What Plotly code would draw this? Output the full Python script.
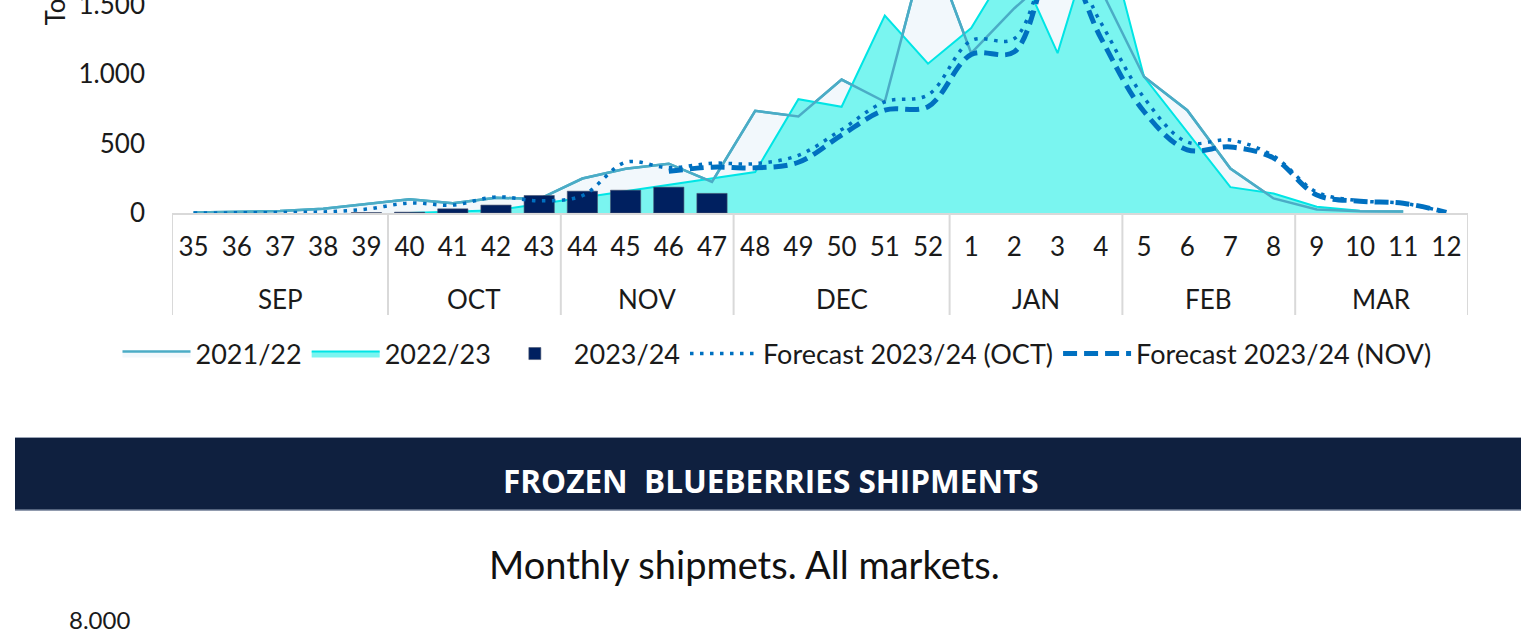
import plotly.graph_objects as go

W, H = 1521, 637

weeks = ["35", "36", "37", "38", "39", "40", "41", "42", "43", "44", "45", "46", "47",
         "48", "49", "50", "51", "52", "1", "2", "3", "4", "5", "6", "7", "8", "9", "10", "11", "12"]
months = ["SEP"] * 5 + ["OCT"] * 4 + ["NOV"] * 4 + ["DEC"] * 5 + ["JAN"] * 4 + ["FEB"] * 4 + ["MAR"] * 4

s2122 = [3, 8, 15, 30, 65, 98, 70, 110, 100, 248, 319, 355, 224, 735, 695, 960, 800, 1980,
         1150, 1473, 1750, 1610, 980, 740, 320, 105, 25, 12, 10, None]
s2223 = [None, None, None, None, None, 0, 8, 20, 65, 110, 160, 200, 245, 295, 819, 764, 1421, 1074,
         1331, 1840, 1150, 2170, 980, 580, 186, 140, 45, 16, None, None]
s2324 = [None, None, None, None, 3, 6, 30, 57, 126, 157, 164, 186, 141,
         None, None, None, None, None, None, None, None, None, None, None, None, None, None, None, None, None]
fc_oct = [0, 1, 3, 8, 28, 72, 57, 116, 88, 125, 365, 325, 358, 355, 415, 600, 800, 850,
          1240, 1255, 1900, 1370, 830, 510, 525, 410, 150, 88, 70, 5]
fc_nov = [None, None, None, None, None, None, None, None, None, None, None, 300, 330, 325, 365, 560, 740, 765,
          1140, 1160, 1880, 1260, 730, 455, 475, 395, 130, 85, 70, 5]

FONT = "Lato"
TXT = "#1a1a1a"
GRID = "#d9d9d9"


def px(v):
    return v / W


def py(v):
    return 1 - v / H


fig = go.Figure()
# base subplot: the two seasons as areas
fig.add_trace(go.Scatter(x=weeks, y=s2122, name="2021/22", mode="lines", fill="tozeroy",
                         fillcolor="#f2f8fc", line=dict(color="#4bacc6", width=2.5)))
fig.add_trace(go.Scatter(x=weeks, y=s2223, name="2022/23", mode="lines", fill="tozeroy",
                         fillcolor="#7af5f0", line=dict(color="#00e5e5", width=2)))
fig.add_trace(go.Scatter(x=weeks, y=s2122, name="2021/22", mode="lines", showlegend=False,
                         line=dict(color="#4bacc6", width=2.5), hoverinfo="skip"))
# overlay subplot: bars + forecasts (drawn above the areas)
fig.add_trace(go.Bar(x=weeks, y=s2324, name="2023/24",
                     marker=dict(color="#002060", line=dict(color="#4a5570", width=0.6)),
                     xaxis="x2", yaxis="y2"))
fig.add_trace(go.Scatter(x=weeks, y=fc_oct, name="Forecast 2023/24 (OCT)", mode="lines",
                         line=dict(color="#0070c0", width=3.5, dash="3.5px,6.5px", shape="spline", smoothing=1),
                         xaxis="x2", yaxis="y2"))
fig.add_trace(go.Scatter(x=weeks, y=fc_nov, name="Forecast 2023/24 (NOV)", mode="lines",
                         line=dict(color="#0070c0", width=5, dash="14px,7px", shape="spline", smoothing=1),
                         xaxis="x2", yaxis="y2"))

xdom = [px(172), px(1468)]
ydom = [py(213), 1]
yr = [0, 213 / 0.139]

# month group labels and dividers derived from the months list
groups = []
start = 0
for i in range(1, len(months) + 1):
    if i == len(months) or months[i] != months[start]:
        groups.append((months[start], start, i - 1))
        start = i

shapes = []
annotations = []
bounds = sorted({g[1] - 0.5 for g in groups} | {groups[-1][2] + 0.5})
for b in bounds:
    shapes.append(dict(type="line", xref="x", yref="paper", x0=b, x1=b, y0=py(315), y1=py(213),
                       line=dict(color=GRID, width=2), layer="below"))
for name, a, b in groups:
    annotations.append(dict(text=name, xref="x", yref="paper", x=(a + b) / 2, y=py(299),
                            xanchor="center", yanchor="middle", showarrow=False,
                            font=dict(family=FONT, size=26, color=TXT)))

shapes += [
    dict(type="rect", xref="paper", yref="paper", x0=px(15), x1=1.0, y0=py(510), y1=py(438),
         fillcolor="#0f203f", line=dict(width=0), layer="below"),
    dict(type="line", xref="paper", yref="paper", x0=px(15), x1=1.0, y0=py(437.5), y1=py(437.5),
         line=dict(color="#9aa4b5", width=1)),
    dict(type="line", xref="paper", yref="paper", x0=px(15), x1=1.0, y0=py(510), y1=py(510),
         line=dict(color="#6c7a93", width=1.5)),
]
annotations += [
    dict(text="Tons", xref="paper", yref="paper", x=px(55), y=py(28), xanchor="center", yanchor="bottom",
         textangle=-90, showarrow=False, font=dict(family=FONT, size=26, color=TXT)),
    dict(text="<b>FROZEN  BLUEBERRIES SHIPMENTS</b>", xref="paper", yref="paper", x=px(771), y=py(481),
         xanchor="center", yanchor="middle", showarrow=False,
         font=dict(family="Open Sans", size=31.5, color="white")),
    dict(text="Monthly shipmets. All markets.", xref="paper", yref="paper", x=px(744), y=py(564),
         xanchor="center", yanchor="middle", showarrow=False, font=dict(family=FONT, size=38, color="#111111")),
    dict(text="8.000", xref="paper", yref="paper", x=px(99), y=py(619),
         xanchor="center", yanchor="middle", showarrow=False, font=dict(family=FONT, size=24, color=TXT)),
]

fig.update_layout(
    width=W, height=H, autosize=False,
    margin=dict(l=0, r=0, t=0, b=0, pad=0, autoexpand=False),
    paper_bgcolor="white", plot_bgcolor="rgba(0,0,0,0)",
    separators=",.",
    font=dict(family=FONT, size=26, color=TXT),
    bargap=0.3,
    showlegend=True,
    legend=dict(orientation="h", x=px(777), xanchor="center", y=py(354), yanchor="middle",
                font=dict(family=FONT, size=27, color=TXT), bgcolor="rgba(0,0,0,0)",
                itemwidth=68, tracegroupgap=0),
    xaxis=dict(domain=xdom, type="category", range=[-0.5, 29.5], showline=True, linecolor=GRID, linewidth=2,
               showgrid=False, zeroline=False, ticks="", ticklabelstandoff=10, automargin=False,
               tickfont=dict(family=FONT, size=26, color=TXT)),
    yaxis=dict(domain=ydom, range=yr, dtick=500, tickformat=",d", showgrid=False, zeroline=False,
               showline=False, ticklabelstandoff=26, automargin=False, ticklabeloverflow="allow",
               tickfont=dict(family=FONT, size=26, color=TXT)),
    xaxis2=dict(domain=xdom, type="category", overlaying="x", matches="x", visible=False, automargin=False),
    yaxis2=dict(domain=ydom, overlaying="y", matches="y", visible=False, automargin=False),
    shapes=shapes,
    annotations=annotations,
)

post = ("document.documentElement.style.margin='0px';document.body.style.margin='0px';"
        "document.documentElement.style.overflow='hidden';document.body.style.overflow='hidden';")
fig.write_html("out.html", post_script=post, config={"displayModeBar": False})
